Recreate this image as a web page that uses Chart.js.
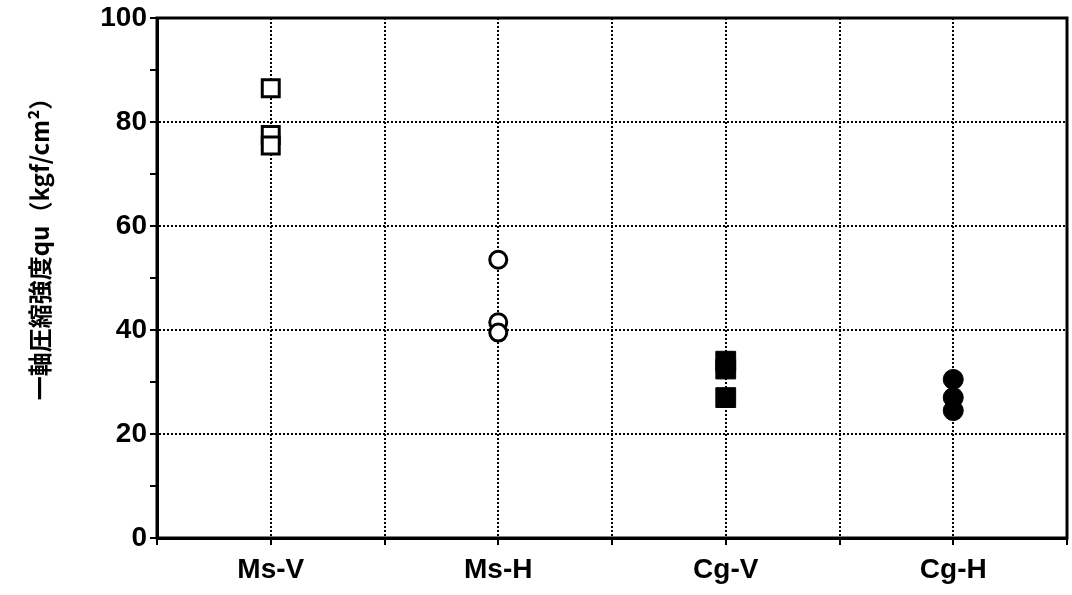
<!DOCTYPE html>
<html>
<head>
<meta charset="utf-8">
<script src="https://cdn.jsdelivr.net/npm/chart.js@4"></script>
<style>
  html, body { margin: 0; padding: 0; background: #fff; }
  #wrap { width: 1072px; height: 595px; }
</style>
</head>
<body>
<div id="wrap"><canvas id="quChart" width="1072" height="595"></canvas></div>
<script>
// categories and measured qu values (kgf/cm2)
const categories = ['Ms-V', 'Ms-H', 'Cg-V', 'Cg-H'];
const msV = [86.5, 77.5, 75.5];
const msH = [53.5, 41.5, 39.5];
const cgV = [34, 32.5, 27];
const cgH = [30.5, 27, 24.5];
const yTicks = [0, 20, 40, 60, 80, 100];
const yTitle = '一軸圧縮強度qu（kgf/cm²）';

const toPts = (vals, i) => vals.map(v => ({ x: i, y: v }));

//  frame + rotated axis title
const framePlugin = {
  id: 'frame',
  afterDraw(chart) {
    const { ctx, chartArea: a } = chart;
    ctx.save();
    ctx.strokeStyle = '#000';
    ctx.lineWidth = 3;
    ctx.strokeRect(a.left, a.top, a.right - a.left, a.bottom - a.top);
    ctx.translate(40, 243);
    ctx.rotate(-Math.PI / 2);
    ctx.fillStyle = '#000';
    ctx.font = 'bold 24px "Noto Sans CJK JP"';
    ctx.textAlign = 'center';
    ctx.textBaseline = 'middle';
    ctx.fillText(yTitle, 0, 0);
    ctx.restore();
  }
};

const tickFont = { family: '"Liberation Sans", Arial', size: 28, weight: 'bold' };

new Chart(document.getElementById('quChart'), {
  type: 'scatter',
  data: {
    datasets: [
      { data: toPts(msV, 0), pointStyle: 'rect', pointRadius: 12, borderWidth: 3,
        borderColor: '#000', backgroundColor: '#fff' },
      { data: toPts(msH, 1), pointStyle: 'circle', pointRadius: 8.5, borderWidth: 3,
        borderColor: '#000', backgroundColor: '#fff' },
      { data: toPts(cgV, 2), pointStyle: 'rect', pointRadius: 14, borderWidth: 1,
        borderColor: '#000', backgroundColor: '#000' },
      { data: toPts(cgH, 3), pointStyle: 'circle', pointRadius: 10, borderWidth: 1,
        borderColor: '#000', backgroundColor: '#000' }
    ]
  },
  options: {
    responsive: false,
    animation: false,
    layout: { autoPadding: false, padding: { left: 0, right: 5, top: 18, bottom: 0 } },
    plugins: { legend: { display: false }, tooltip: { enabled: false } },
    scales: {
      x: {
        type: 'linear',
        min: -0.5,
        max: 3.5,
        afterFit: s => { s.height = 57; s.paddingRight = 0; s.paddingLeft = 0; },
        ticks: {
          stepSize: 0.5,
          autoSkip: false,
          maxRotation: 0,
          padding: 8,
          color: '#000',
          font: tickFont,
          callback: v => Number.isInteger(v) ? categories[v] : ''
        },
        grid: {
          color: c => (c.tick && c.tick.value > -0.5 && c.tick.value < 3.5) ? '#000' : 'rgba(0,0,0,0)',
          lineWidth: 2,
          tickColor: '#000',
          tickLength: 7,
          tickWidth: 2
        },
        border: { display: true, color: '#000', width: 3, dash: [2, 2] }
      },
      y: {
        min: 0,
        max: 100,
        afterFit: s => { s.width = 157; s.paddingTop = 0; s.paddingBottom = 0; },
        ticks: {
          stepSize: 10,
          padding: 3,
          color: '#000',
          font: tickFont,
          callback: v => yTicks.includes(v) ? v : ''
        },
        grid: {
          color: c => (c.tick && c.tick.value % 20 === 0 && c.tick.value > 0 && c.tick.value < 100) ? '#000' : 'rgba(0,0,0,0)',
          lineWidth: 2,
          tickColor: '#000',
          tickLength: 7,
          tickWidth: 2
        },
        border: { display: true, color: '#000', width: 3, dash: [2, 2] }
      }
    }
  },
  plugins: [framePlugin]
});
</script>
</body>
</html>
